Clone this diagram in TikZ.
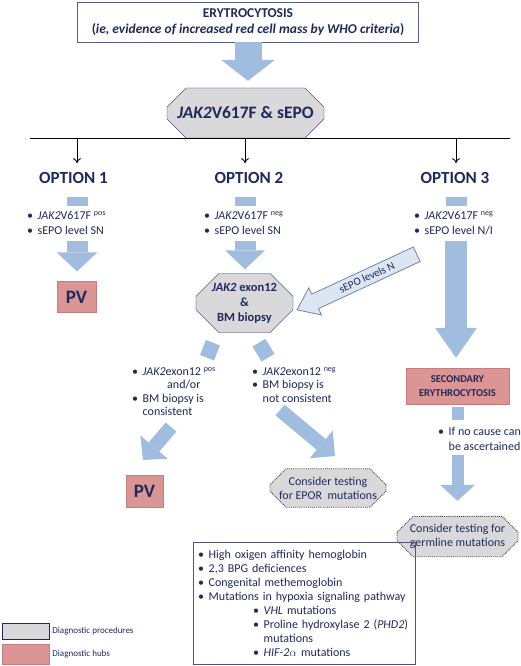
\documentclass[tikz,border=0pt]{standalone}
\usepackage{fontspec}
\setmainfont{Carlito}
\usetikzlibrary{arrows.meta}
\usetikzlibrary{calc}
\usetikzlibrary{shapes.misc}

\definecolor{azul}{HTML}{1F2A5A}
\definecolor{azulseta}{HTML}{A0BCDF}
\definecolor{azulclaro}{HTML}{DCE6F2}
\definecolor{bordaseta}{HTML}{6F86A8}
\definecolor{cinza}{HTML}{D9D9DB}
\definecolor{rosa}{HTML}{DA9594}
\definecolor{rosaborda}{HTML}{C47E7D}

\newcommand{\marca}{\makebox[10.5pt][l]{\textbullet}}
\newcommand{\recuo}{\hspace*{10.5pt}}

\begin{document}
\begin{tikzpicture}[
    % Um ponto por pixel, eixo y para baixo
    x=1pt, y=-1pt,
    % Estilo padrão dos nós
    every node/.style={text=azul, inner sep=0pt},
    % Caixa do título
    titulo/.style={draw=azul!75, fill=white, align=center, minimum width=341pt,
      minimum height=40pt, font=\fontsize{13.5}{16.5}\selectfont\bfseries},
    % Procedimentos diagnósticos (octógono cinza)
    octo/.style={chamfered rectangle, draw=azul, fill=cinza, align=center},
    % Testes sugeridos (octógono pontilhado)
    teste/.style={chamfered rectangle, chamfered rectangle sep=8pt, draw=black!75,
      densely dotted, line width=0.9pt, fill=cinza, align=center,
      font=\fontsize{12}{14}\selectfont},
    % Centros diagnósticos (caixa rosa)
    hub/.style={draw=rosaborda, fill=rosa, align=center},
    % Títulos das opções
    opcao/.style={font=\fontsize{17}{20}\selectfont\bfseries},
    % Listas com marcadores
    lista/.style={anchor=north west, align=left, font=\fontsize{12}{15}\selectfont},
    % Setas largas azuis
    seta/.style={draw=azulseta, line width=#1},
    ponta/.style 2 args={-{Triangle[length=#1, width=#2, line width=0pt]}}
  ]

  % Fundo e margens
  \fill[white] (0,0) rectangle (520,666);

  % Caixa inicial
  \node[titulo] (eri) at (248,22)
    {ERYTROCYTOSIS\\(\textit{ie, evidence of increased red cell mass by WHO criteria})};

  % Teste inicial
  \node[octo, minimum width=157pt, minimum height=50pt, chamfered rectangle xsep=15pt,
    chamfered rectangle ysep=13pt, font=\fontsize{17.5}{20}\selectfont\bfseries]
    (jak) at (245.5,113) {\textit{JAK2}V617F \& sEPO};
  \draw[seta=27pt, ponta={21pt}{54pt}, shorten >=7pt] (eri.south) -- (eri.south |- jak.north);

  % Linha horizontal
  \coordinate (le) at (30,138);
  \coordinate (ld) at (510,138);
  \draw[line width=0.9pt] (le) -- (ld);

  % Opções
  \coordinate (c1) at (77,138);
  \coordinate (c2) at (245,138);
  \coordinate (c3) at (456,138);
  \node[opcao] (op1) at (73.5,178) {OPTION 1};
  \node[opcao] (op2) at (249,178) {OPTION 2};
  \node[opcao] (op3) at (455,178) {OPTION 3};
  \draw[-{To[length=5pt,width=8pt]}, line width=0.9pt, shorten >=9pt] (c1) -- (c1 |- op1.north);
  \draw[-{To[length=5pt,width=8pt]}, line width=0.9pt, shorten >=9pt] (c2) -- (c2 |- op2.north);
  \draw[-{To[length=5pt,width=8pt]}, line width=0.9pt, shorten >=9pt] (c3) -- (c3 |- op3.north);

  % Opção 1
  \node[lista] (b1) at (27,211) {\marca\textit{JAK2}V617F \textsuperscript{pos}\\\marca sEPO level SN};
  \node[hub, minimum width=39pt, minimum height=31pt, font=\fontsize{19}{22}\selectfont\bfseries]
    (pv1) at (76.5,297) {PV};
  \draw[seta=21pt, shorten <=13pt, shorten >=5pt] (c1 |- op1.south) -- (c1 |- b1.north);
  \draw[seta=21pt, ponta={19pt}{41pt}, shorten <=6pt, shorten >=10pt] (c1 |- b1.south) -- (c1 |- pv1.north);

  % Opção 2
  \node[lista] (b2) at (204,211) {\marca\textit{JAK2}V617F \textsuperscript{neg}\\\marca sEPO level SN};
  \node[octo, minimum width=95pt, minimum height=59pt, chamfered rectangle xsep=16pt,
    chamfered rectangle ysep=7pt, font=\fontsize{12.5}{15}\selectfont\bfseries]
    (exon) at (244.5,303) {\textit{JAK2} exon12\\\&\\BM biopsy};
  \draw[seta=21pt, shorten <=13pt, shorten >=5pt] (c2 |- op2.south) -- (c2 |- b2.north);
  \draw[seta=21pt, ponta={19pt}{40pt}, shorten <=6pt, shorten >=4pt] (c2 |- b2.south) -- (c2 |- exon.north);

  % Seta "sEPO levels N" (ponta junto ao octógono, cauda junto à opção 3)
  \begin{scope}[shift={($(exon.-8)+(4,0)$)}, rotate=24.9]
    \draw[draw=bordaseta, fill=azulclaro, line width=0.8pt]
      (0,0) -- (20,15) -- (20,8) -- (132,8) -- (132,-8) -- (20,-8) -- (20,-15) -- cycle;
    \node[rotate=24.9, font=\fontsize{11}{13}\selectfont] (sn) at (77,0) {sEPO levels N};
  \end{scope}

  % Ramos do exon12
  \draw[seta=15pt] ($(exon.south)+(-31.5,10)$) -- ++(-6,15);
  \draw[seta=15pt] ($(exon.south)+(14.5,10)$) -- ++(9,15);
  \node[lista, font=\fontsize{12}{13.5}\selectfont] (b4) at (132,367)
    {\marca\textit{JAK2}exon12 \textsuperscript{pos}\\\hspace*{35pt}and/or\\\marca BM biopsy is\\\recuo consistent};
  \node[lista, font=\fontsize{12}{13.5}\selectfont] (b5) at (252,367)
    {\marca\textit{JAK2}exon12 \textsuperscript{neg}\\\marca BM biopsy is\\\recuo not consistent};
  \node[hub, minimum width=37pt, minimum height=32pt, font=\fontsize{19}{22}\selectfont\bfseries]
    (pv2) at (144.5,491) {PV};
  \node[teste, minimum width=116pt, minimum height=28pt] (epor) at (328,488)
    {Consider testing\\for EPOR\ \ mutations};
  \coordinate (d1) at (171,427);
  \coordinate (p1) at (143,460);
  \coordinate (d2) at (280,410);
  \coordinate (p2) at (335,456);
  \draw[seta=14pt, ponta={17pt}{36pt}] (d1) -- (p1);
  \draw[seta=14pt, ponta={18pt}{36pt}] (d2) -- (p2);

  % Opção 3
  \node[lista] (b3) at (414,211) {\marca\textit{JAK2}V617F \textsuperscript{neg}\\\marca sEPO level N/I};
  \node[hub, minimum width=103pt, minimum height=36pt, font=\fontsize{10.5}{14}\selectfont\bfseries]
    (sec) at (457.5,386) {SECONDARY\\ERYTHROCYTOSIS};
  \draw[seta=21pt, shorten <=13pt, shorten >=5pt] (c3 |- op3.south) -- (c3 |- b3.north);
  \draw[seta=22pt, ponta={30pt}{42pt}, shorten <=6pt, shorten >=10pt] (c3 |- b3.south) -- (c3 |- sec.north);
  \node[lista] (b6) at (438,427) {\marca If no cause can\\\recuo be ascertained};
  \node[teste, minimum width=121pt, minimum height=33pt] (germ) at (457.5,536.5)
    {Consider testing for\\germline mutations};
  \draw[seta=12pt, shorten <=3pt, shorten >=7pt] (sec.south) -- (sec.south |- b6.north);
  \draw[seta=12pt, ponta={16pt}{35pt}, shorten <=4pt, shorten >=15pt] (sec.south |- b6.south) -- (sec.south |- germ.north);

  % Causas de eritrocitose secundária
  \node[draw=azul!80, anchor=north west, align=left, inner xsep=5pt, inner ysep=4pt,
    text width=212pt, minimum height=122pt, font=\fontsize{12}{14}\selectfont]
    (lst) at (193,542) {\marca High oxigen affinity hemoglobin\\
      \marca 2,3 BPG deficiences\\
      \marca Congenital methemoglobin\\
      \marca Mutations in hypoxia signaling pathway\\
      \hspace*{55pt}\marca\textit{VHL} mutations\\
      \hspace*{55pt}\marca Proline hydroxylase 2 (\textit{PHD2})\\
      \hspace*{65.5pt}mutations\\
      \hspace*{55pt}\marca\textit{HIF-2}$\alpha$ mutations};

  % Legenda
  \node[octo, minimum width=47pt, minimum height=16pt, chamfered rectangle sep=4pt] (leg1) at (25.5,631) {};
  \node[anchor=west, font=\fontsize{9}{11}\selectfont] (tleg1) at ($(leg1.east)+(3,0)$) {Diagnostic procedures};
  \node[hub, minimum width=47pt, minimum height=20pt] (leg2) at (25.5,654) {};
  \node[anchor=west, font=\fontsize{9}{11}\selectfont] (tleg2) at ($(leg2.east)+(3,0)$) {Diagnostic hubs};

\end{tikzpicture}
\end{document}
